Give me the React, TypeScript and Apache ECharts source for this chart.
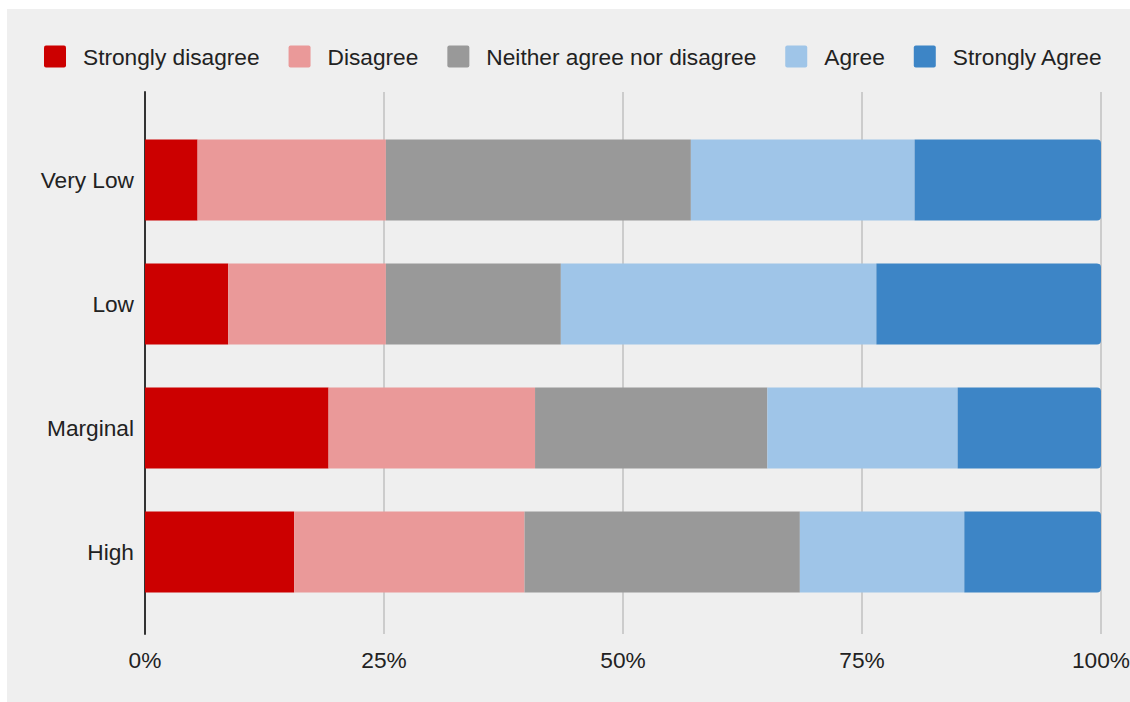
import React, { useEffect, useRef } from "react";
import * as echarts from "echarts";

const categories = ["Very Low", "Low", "Marginal", "High"];
const seriesNames = ["Strongly disagree", "Disagree", "Neither agree nor disagree", "Agree", "Strongly Agree"];
const stronglyDisagree = [5.5, 8.7, 19.2, 15.6];
const disagree = [19.7, 16.5, 21.6, 24.1];
const neither = [31.9, 18.3, 24.3, 28.8];
const agree = [23.4, 33.0, 19.9, 17.2];
const stronglyAgree = [19.5, 23.5, 15.0, 14.3];
const colors = ["#cc0000", "#ea9999", "#999999", "#9fc5e8", "#3d85c6"];
const xTicks = [0, 25, 50, 75, 100];

export default function App() {
  const ref = useRef<HTMLDivElement>(null);
  useEffect(() => {
    if (!ref.current) return;
    const chart = echarts.init(ref.current, null, { renderer: "svg" });
    const values = [stronglyDisagree, disagree, neither, agree, stronglyAgree];
    const font = "'Liberation Sans', Arial, sans-serif";
    const fs = 22.7;
    const icon = "path://M2,0 H20 Q22,0 22,2 V20 Q22,22 20,22 H2 Q0,22 0,20 V2 Q0,0 2,0 Z";
    chart.setOption({
      animation: false,
      backgroundColor: "#efefef",
      textStyle: { fontFamily: font },
      color: colors,
      legend: {
        top: 31,
        left: 32,
        itemWidth: 22,
        itemHeight: 22,
        itemGap: 29,
        data: seriesNames.map((n) => ({ name: n, icon })),
        textStyle: { fontSize: fs, color: "#222222", fontFamily: font, padding: [0, 0, 0, 12] },
      },
      grid: [
        { left: 138, right: 29, top: 109, bottom: 88, containLabel: false, outerBoundsMode: "none" },
        { left: 138, right: 29, top: 83, bottom: 68, containLabel: false, outerBoundsMode: "none" },
      ],
      xAxis: [
        {
          type: "value",
          gridIndex: 0,
          min: xTicks[0],
          max: xTicks[xTicks.length - 1],
          interval: 25,
          axisLine: { show: false },
          axisTick: { show: false },
          splitLine: { show: false },
          axisLabel: { show: false },
        },
        {
          type: "value",
          gridIndex: 1,
          min: xTicks[0],
          max: xTicks[xTicks.length - 1],
          interval: 25,
          axisLine: { show: false },
          axisTick: { show: false },
          splitLine: { show: true, lineStyle: { color: "#cccccc", width: 2 } },
          axisLabel: {
            formatter: "{value}%",
            fontSize: fs,
            color: "#222222",
            margin: 14,
            fontFamily: font,
          },
        },
      ],
      yAxis: [
        {
          type: "category",
          gridIndex: 0,
          inverse: true,
          data: categories,
          axisLine: { show: false },
          axisTick: { show: false },
          axisLabel: { fontSize: fs, color: "#222222", margin: 11, fontFamily: font },
        },
        {
          type: "category",
          gridIndex: 1,
          inverse: true,
          data: categories,
          axisLine: { show: true, lineStyle: { color: "#333333", width: 2 } },
          axisTick: { show: false },
          axisLabel: { show: false },
          splitLine: { show: false },
        },
      ],
      series: seriesNames.map((name, i) => ({
        name,
        type: "bar",
        stack: "total",
        xAxisIndex: 0,
        yAxisIndex: 0,
        barWidth: 81,
        z: 3,
        data: values[i],
        itemStyle: {
          color: colors[i],
          borderRadius: i === seriesNames.length - 1 ? [0, 4, 4, 0] : 0,
        },
      })),
    });
    return () => chart.dispose();
  }, []);
  return (
    <div
      ref={ref}
      style={{ position: "fixed", left: 7, top: 9, width: 1123, height: 693 }}
    />
  );
}
